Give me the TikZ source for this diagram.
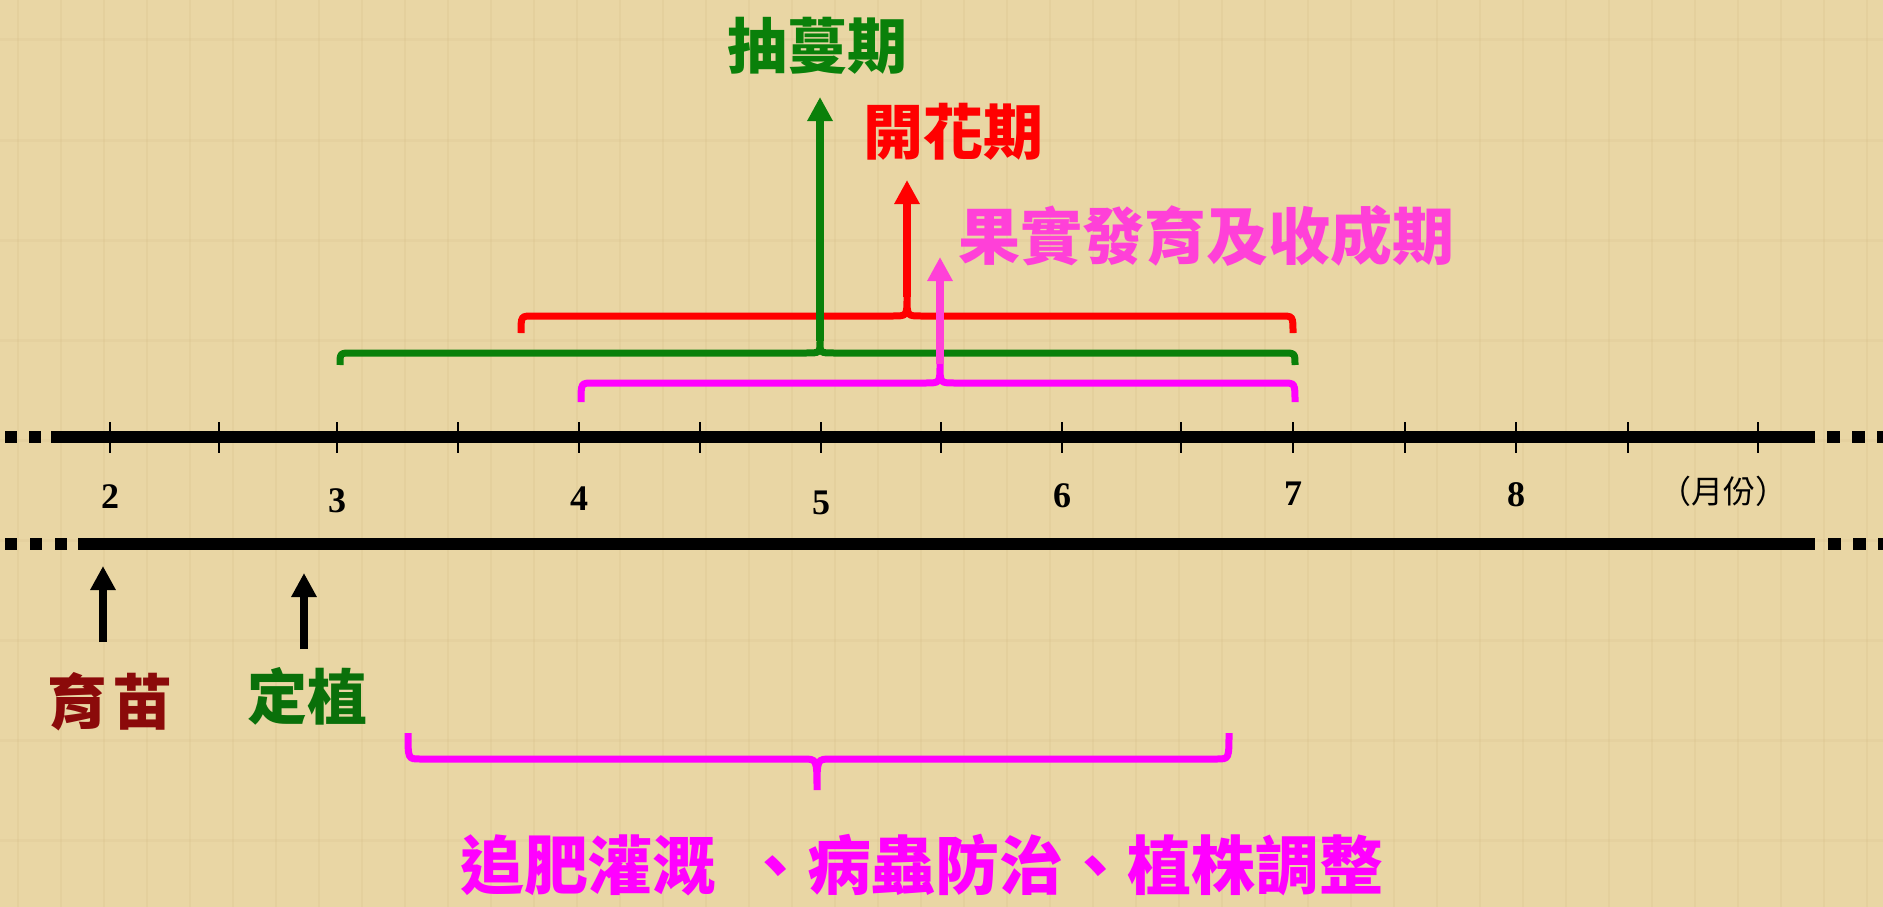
\documentclass[tikz,border=0pt]{standalone}
\usepackage{fontspec}
\setmainfont{Liberation Serif}
\newfontfamily\cjk{Noto Sans CJK TC}
\usetikzlibrary{arrows.meta}

\definecolor{paper}{HTML}{E9D6A4}
\definecolor{paperline}{HTML}{D8C08C}
\definecolor{vinegreen}{HTML}{0A800A}
\definecolor{plantgreen}{HTML}{0A700A}
\definecolor{fruitpink}{HTML}{FF40D8}
\definecolor{carepink}{HTML}{FF00FF}
\definecolor{seedred}{HTML}{8B0A0A}

\tikzset{
  axisline/.style={line width=12pt},
  tickline/.style={line width=2.5pt},
  bracelink/.style={line width=7pt},
  uparrow/.style={line width=8pt, -{Triangle[width=24pt,length=24pt]}},
  monthlbl/.style={font=\fontsize{36}{36}\selectfont\bfseries, inner sep=0pt},
  stagelbl/.style={font=\cjk\bfseries\fontsize{60}{60}\selectfont, inner sep=0pt},
}

% 括弧: 色, 左, 右, 端, 横線, 先端, 中央
\newcommand{\bracedraw}[7]{%
  \draw[bracelink, #1] (#2,#4) .. controls (#2,#5) .. ({#2+12},#5) -- ({#7-14},#5)
    .. controls (#7,#5) .. (#7,#6) .. controls (#7,#5) .. ({#7+14},#5)
    -- ({#3-12},#5) .. controls (#3,#5) .. (#3,#4);}

\begin{document}
\begin{tikzpicture}[x=1pt, y=-1pt]
	% 背景
	\useasboundingbox (0,0) rectangle (1883,907);
	\fill[paper] (0,0) rectangle (1883,907);
	\foreach \x in {18,61,...,1883}
		\draw[paperline, line width=2pt, opacity=0.25] (\x,0) -- (\x,907);
	\foreach \y in {40,140,...,907}
		\draw[paperline, line width=3pt, opacity=0.2] (0,\y) -- (1883,\y);

	% 時間軸
	\draw[axisline] (51,437) -- (1815,437);
	\draw[axisline, dash pattern=on 12pt off 12pt] (5,437) -- (42,437);
	\draw[axisline, dash pattern=on 13pt off 12pt] (1827,437) -- (1883,437);
	\draw[axisline] (78,544) -- (1815,544);
	\draw[axisline, dash pattern=on 12pt off 13pt] (5,544) -- (67,544);
	\draw[axisline, dash pattern=on 13pt off 12pt] (1828,544) -- (1883,544);
	\foreach \x in {110,219,337,458,579,700,821,941,1062,1181,1293,1405,1516,1628,1758}
		\draw[tickline] (\x,422) -- (\x,453);

	% 月份
	\node[monthlbl] (m2) at (110,497) {2};
	\node[monthlbl] (m3) at (337,501) {3};
	\node[monthlbl] (m4) at (579,499) {4};
	\node[monthlbl] (m5) at (821,503) {5};
	\node[monthlbl] (m6) at (1062,496) {6};
	\node[monthlbl] (m7) at (1293,494) {7};
	\node[monthlbl] (m8) at (1516,495) {8};
	\node[font=\cjk\fontsize{32}{32}\selectfont, inner sep=0pt] (unit) at (1723,491) {（月份）};

	% 括弧
	\bracedraw{red}{521}{1293}{333}{316}{297}{907}
	\bracedraw{vinegreen}{340}{1295}{365}{353}{341}{820}
	\bracedraw{carepink}{581}{1295}{402}{383}{364}{940}
	\bracedraw{carepink}{408}{1229}{733}{759}{790}{817}

	% 矢印
	\coordinate (gtip) at (820,341);
	\coordinate (gtop) at (820,97);
	\coordinate (rtip) at (907,297);
	\coordinate (rtop) at (907,180);
	\coordinate (ptip) at (940,364);
	\coordinate (ptop) at (940,257);
	\coordinate (ybot) at (103,642);
	\coordinate (ytop) at (103,566);
	\coordinate (dbot) at (304,649);
	\coordinate (dtop) at (304,573);
	\draw[uparrow, vinegreen] (gtip) -- (gtop);
	\draw[uparrow, red] (rtip) -- (rtop);
	\draw[uparrow, fruitpink] (ptip) -- (ptop);
	\draw[uparrow, black] (ybot) -- (ytop);
	\draw[uparrow, black] (dbot) -- (dtop);

	% 文字
	\node[stagelbl, vinegreen] (chou) at (817,46) {抽蔓期};
	\node[stagelbl, red] (kaihua) at (953,132) {開花期};
	\node[stagelbl, fruitpink, font=\cjk\bfseries\fontsize{62}{62}\selectfont] (guoshi) at (1206,236) {果實發育及收成期};
	\node[stagelbl, seedred] (yumiao) at (110,702) {育\hspace{5pt}苗};
	\node[stagelbl, plantgreen] (dingzhi) at (307,696) {定植};
	\node[stagelbl, carepink, font=\cjk\bfseries\fontsize{64}{64}\selectfont] (guanli) at (922,865) {追肥灌溉\hspace{28pt}、病蟲防治、植株調整};
\end{tikzpicture}
\end{document}
